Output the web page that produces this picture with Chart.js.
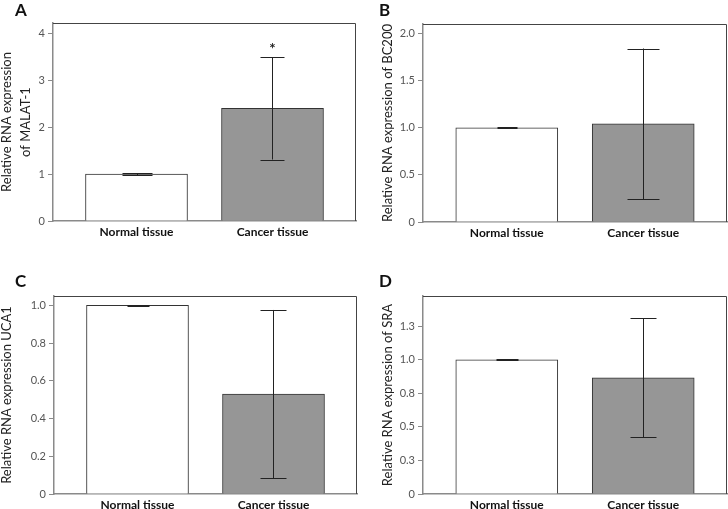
<!DOCTYPE html>
<html>
<head>
<meta charset="utf-8">
<script src="https://cdn.jsdelivr.net/npm/chart.js@4.4.0/dist/chart.umd.min.js"></script>
<style>
  html, body { margin: 0; padding: 0; background: #fff; }
  #wrap { position: relative; width: 728px; height: 509px; overflow: hidden; }
  #wrap canvas { position: absolute; }
</style>
</head>
<body>
<div id="wrap">
  <canvas id="cA" width="364" height="254" style="left:0;top:0"></canvas>
  <canvas id="cB" width="364" height="254" style="left:364px;top:0"></canvas>
  <canvas id="cC" width="364" height="255" style="left:0;top:254px"></canvas>
  <canvas id="cD" width="364" height="255" style="left:364px;top:254px"></canvas>
</div>
<script>
const categories = ["Normal tissue", "Cancer tissue"];

// MALAT-1
const malat1Mean = [1.0, 2.40];
const malat1Sd = [0.02, 1.09];
const malat1Sig = ["", "*"];
const malat1Ticks = [0, 1, 2, 3, 4];
const malat1TickLabels = ["0", "1", "2", "3", "4"];

// BC200
const bc200Mean = [1.0, 1.04];
const bc200Sd = [0.004, 0.80];
const bc200Ticks = [0, 0.5, 1.0, 1.5, 2.0];
const bc200TickLabels = ["0", "0.5", "1.0", "1.5", "2.0"];

// UCA1
const uca1Mean = [1.0, 0.53];
const uca1Sd = [0.002, 0.446];
const uca1Ticks = [0, 0.2, 0.4, 0.6, 0.8, 1.0];
const uca1TickLabels = ["0", "0.2", "0.4", "0.6", "0.8", "1.0"];

// SRA
const sraMean = [1.0, 0.866];
const sraSd = [0.002, 0.444];
const sraTicks = [0, 0.25, 0.5, 0.75, 1.0, 1.25];
const sraTickLabels = ["0", "0.3", "0.5", "0.8", "1.0", "1.3"];

const FONT = "Lato, 'Open Sans', sans-serif";
const TITLE_SIZE = 13;
const TITLE_LH = 1.45;

// error bars, significance marks, frame and panel letter
const panelPlugin = {
  id: "panelExtras",
  afterDatasetsDraw(chart, args, opts) {
    const ctx = chart.ctx;
    const meta = chart.getDatasetMeta(0);
    const y = chart.scales.y;
    const area = chart.chartArea;

    ctx.save();
    ctx.strokeStyle = "#222";
    ctx.lineWidth = 1;
    opts.mean.forEach((m, i) => {
      const x = Math.round(meta.data[i].x) + 0.5;
      const yHi = y.getPixelForValue(m + opts.sd[i]);
      const yLo = y.getPixelForValue(m - opts.sd[i]);
      const cap = opts.caps[i];
      ctx.beginPath();
      ctx.moveTo(x, yHi);
      ctx.lineTo(x, yLo);
      ctx.moveTo(x - cap, Math.round(yHi) + 0.5);
      ctx.lineTo(x + cap, Math.round(yHi) + 0.5);
      ctx.moveTo(x - cap, Math.round(yLo) + 0.5);
      ctx.lineTo(x + cap, Math.round(yLo) + 0.5);
      ctx.stroke();
      if (opts.sig && opts.sig[i]) {
        ctx.fillStyle = "#222";
        ctx.font = "bold 15px " + FONT;
        ctx.textAlign = "center";
        ctx.textBaseline = "middle";
        ctx.fillText(opts.sig[i], x, yHi - 8);
      }
    });

    // top and right frame lines
    ctx.strokeStyle = "#444";
    ctx.beginPath();
    ctx.moveTo(area.left, area.top + 0.5);
    ctx.lineTo(area.right - 0.5, area.top + 0.5);
    ctx.lineTo(area.right - 0.5, area.bottom);
    ctx.stroke();

    // panel letter
    ctx.fillStyle = "#111";
    ctx.font = "bold 17px " + FONT;
    ctx.textAlign = "left";
    ctx.textBaseline = "top";
    ctx.fillText(opts.letter, opts.letterX, opts.letterY);
    ctx.restore();
  }
};

function makePanel(id, cfg) {
  const W = 364;
  const H = document.getElementById(id).height;
  // first title line centre sits at (left pad + title pad + half line height)
  const half = TITLE_SIZE * TITLE_LH / 2;
  const padLeft = Math.min(0, cfg.titleX - half);
  const titlePad = Math.max(0, cfg.titleX - half);
  return new Chart(document.getElementById(id), {
    type: "bar",
    data: {
      datasets: [{
        data: cfg.mean.map((v, i) => ({ x: i + 1, y: v })),
        backgroundColor: ["#ffffff", "#969696"],
        borderColor: "#333",
        borderWidth: 1,
        borderSkipped: "start",
        barThickness: 102
      }]
    },
    options: {
      responsive: false,
      animation: false,
      layout: {
        padding: { left: padLeft, top: cfg.area[1], right: W - cfg.area[2], bottom: 0 }
      },
      plugins: {
        legend: { display: false },
        tooltip: { enabled: false },
        panelExtras: {
          mean: cfg.mean, sd: cfg.sd, sig: cfg.sig, caps: cfg.caps,
          letter: cfg.letter, letterX: 15, letterY: cfg.letterY
        }
      },
      scales: {
        x: {
          type: "linear",
          offset: false,
          bounds: "data",
          min: 0.386,
          max: 2.614,
          grid: { display: false, drawTicks: false, offset: false },
          border: { display: true, color: "#8a8a8a", width: 1.5 },
          afterBuildTicks(scale) { scale.ticks = categories.map((c, i) => ({ value: i + 1 })); },
          ticks: {
            color: "#111",
            padding: 4,
            autoSkip: false,
            maxRotation: 0,
            font: { family: FONT, size: 12, weight: "bold" },
            callback: (v, i) => categories[i]
          },
          afterFit(scale) { scale.height = H - cfg.area[3]; }
        },
        y: {
          min: 0,
          max: cfg.max,
          grid: { drawOnChartArea: false, drawTicks: true, tickLength: 5, color: "#8a8a8a" },
          border: { display: true, color: "#8a8a8a", width: 1.5 },
          afterBuildTicks(scale) { scale.ticks = cfg.ticks.map(v => ({ value: v })); },
          ticks: {
            color: "#555",
            padding: 3,
            font: { family: FONT, size: 11 },
            callback: (v, i) => cfg.tickLabels[i]
          },
          title: {
            display: true,
            text: cfg.title,
            color: "#222",
            padding: { top: titlePad, bottom: 0 },
            font: { family: FONT, size: TITLE_SIZE, lineHeight: TITLE_LH }
          },
          afterFit(scale) { scale.width = cfg.area[0] - padLeft; }
        }
      }
    },
    plugins: [panelPlugin]
  });
}

makePanel("cA", {
  mean: malat1Mean, sd: malat1Sd, sig: malat1Sig, caps: [15, 12],
  ticks: malat1Ticks, tickLabels: malat1TickLabels, max: 4.22,
  title: ["Relative RNA expression", "of MALAT-1"], titleX: 7,
  area: [53, 23, 356, 221], letter: "A", letterY: 2
});
makePanel("cB", {
  mean: bc200Mean, sd: bc200Sd, caps: [10, 16],
  ticks: bc200Ticks, tickLabels: bc200TickLabels, max: 2.10,
  title: "Relative RNA expression of BC200", titleX: 24,
  area: [59, 24, 363, 222], letter: "B", letterY: 2
});
makePanel("cC", {
  mean: uca1Mean, sd: uca1Sd, caps: [11, 13],
  ticks: uca1Ticks, tickLabels: uca1TickLabels, max: 1.05,
  title: "Relative RNA expression UCA1", titleX: 7,
  area: [54, 42, 357, 240], letter: "C", letterY: 19
});
makePanel("cD", {
  mean: sraMean, sd: sraSd, caps: [11, 13],
  ticks: sraTicks, tickLabels: sraTickLabels, max: 1.475,
  title: "Relative RNA expression of SRA", titleX: 24,
  area: [59, 42, 363, 240], letter: "D", letterY: 19
});
</script>
</body>
</html>
